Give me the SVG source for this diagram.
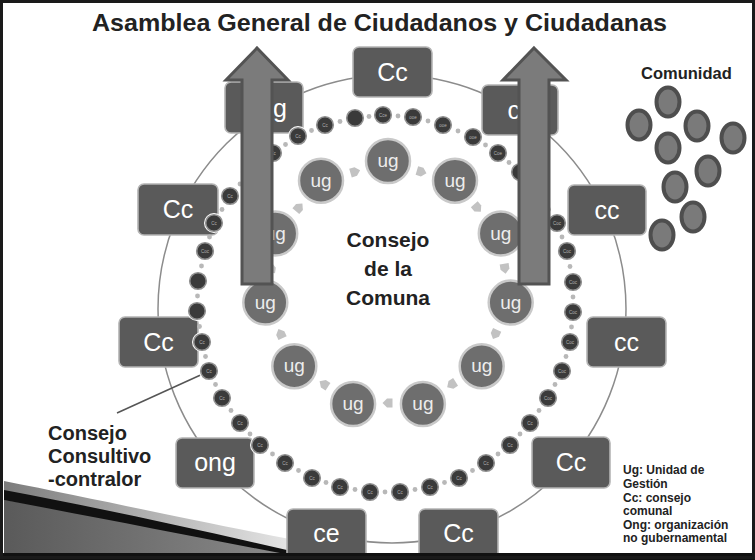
<svg xmlns="http://www.w3.org/2000/svg" width="755" height="560" viewBox="0 0 755 560">
<defs>
<style>
.box{fill:#5a5a5a;stroke:#b4b4b4;stroke-width:1.6}
.bt{font-family:"Liberation Sans",Arial,sans-serif;font-size:25px;fill:#ffffff;text-anchor:middle}
.sc{fill:#3a3a3a;stroke:#909090;stroke-width:1.6}
.halo{fill:#ffffff}
.st{font-family:"Liberation Sans",Arial,sans-serif;font-size:4.5px;fill:#b0b0b0;text-anchor:middle}
.dot{fill:#b8b8b8}
.ug{fill:#6e6e6e;stroke:#c9c9c9;stroke-width:2.5}
.ut{font-family:"Liberation Sans",Arial,sans-serif;font-size:19px;fill:#ececec;text-anchor:middle}
.pa{fill:#c2c2c2}
.big{fill:#7b7b7b;stroke:#535353;stroke-width:3;stroke-linejoin:miter}
.ov{fill:#7a7a7a;stroke:#4e4e4e;stroke-width:4}
.bold{font-family:"Liberation Sans",Arial,sans-serif;font-weight:bold;fill:#222}
</style>
<path id="pent" d="M-4.5,-4.5 L1,-4.5 L5.5,0 L1,4.5 L-4.5,4.5 Z"/>
<linearGradient id="lg" x1="0" y1="0" x2="1" y2="0">
<stop offset="0" stop-color="#7c7c7c"/>
<stop offset="1" stop-color="#f4f4f4"/>
</linearGradient>
<linearGradient id="dg" x1="0" y1="0" x2="1" y2="0">
<stop offset="0" stop-color="#5a5a5a"/>
<stop offset="1" stop-color="#8a8a8a"/>
</linearGradient>
</defs>
<rect width="755" height="560" fill="#ffffff"/>

<!-- decorative swoosh bottom left -->
<g id="swoosh">
<path d="M4,481 C100,500 200,522 330,547 L330,553 L4,553 Z" fill="url(#lg)"/>
<path d="M4,500 C100,515 200,535 290,553 L4,553 Z" fill="url(#dg)"/>
<path d="M4,490 C100,508 200,530 300,553 L280,553 C190,536 100,518 4,500 Z" fill="#111"/>
</g>

<!-- title -->
<text class="bold" x="92" y="31" font-size="24" textLength="575" lengthAdjust="spacingAndGlyphs" fill="#1a1a1a">Asamblea General de Ciudadanos y Ciudadanas</text>

<!-- connectors -->
<g id="connectors" fill="none">
<circle cx="392" cy="309" r="234" stroke="#8c8c8c" stroke-width="1.5"/>
<line x1="117" y1="413" x2="205" y2="373" stroke="#555" stroke-width="1.5"/>
</g>

<!-- outer boxes -->
<g id="box-top"><rect class="box" x="353" y="47" width="79" height="50" rx="6"/><text class="bt" x="392.5" y="81">Cc</text></g>
<g id="box-tl"><rect class="box" x="225" y="82" width="78" height="51" rx="6"/><text class="bt" x="287" y="117" style="text-anchor:end">ug</text></g>
<g id="box-tr"><rect class="box" x="482" y="85" width="76" height="50" rx="6"/><text class="bt" x="520" y="119">cc</text></g>
<g id="box-l1"><rect class="box" x="138" y="184" width="80" height="51" rx="6"/><text class="bt" x="178" y="218">Cc</text></g>
<g id="box-r1"><rect class="box" x="568" y="185" width="78" height="50" rx="6"/><text class="bt" x="607" y="219">cc</text></g>
<g id="box-l2"><rect class="box" x="119" y="317" width="79" height="50" rx="6"/><text class="bt" x="158.5" y="351">Cc</text></g>
<g id="box-r2"><rect class="box" x="587" y="317" width="79" height="50" rx="6"/><text class="bt" x="626.5" y="351">cc</text></g>
<g id="box-ong"><rect class="box" x="176" y="438" width="78" height="50" rx="6"/><text class="bt" x="215" y="471">ong</text></g>
<g id="box-r3"><rect class="box" x="532" y="437" width="78" height="51" rx="6"/><text class="bt" x="571" y="471">Cc</text></g>
<g id="box-ce"><rect class="box" x="287" y="509" width="79" height="50" rx="6"/><text class="bt" x="326.5" y="542">ce</text></g>
<g id="box-cc-b"><rect class="box" x="419" y="509" width="79" height="50" rx="6"/><text class="bt" x="458.5" y="542">Cc</text></g>

<!-- small ring connectors (dots) -->
<g id="ring-dots" class="dot">
<circle cx="240" cy="184" r="2.4"/><circle cx="261.5" cy="162.5" r="2.4"/><circle cx="285.5" cy="144.5" r="2.4"/><circle cx="311.5" cy="130.5" r="2.4"/><circle cx="340" cy="121.5" r="2.4"/><circle cx="369" cy="116.5" r="2.4"/><circle cx="398" cy="116" r="2.4"/><circle cx="428" cy="121" r="2.4"/><circle cx="458" cy="131" r="2.4"/><circle cx="485.5" cy="145" r="2.4"/><circle cx="509" cy="162.5" r="2.4"/><circle cx="530" cy="184" r="2.4"/><circle cx="548.5" cy="209.5" r="2.4"/><circle cx="562" cy="237" r="2.4"/><circle cx="570" cy="266.5" r="2.4"/><circle cx="573" cy="297" r="2.4"/><circle cx="571.5" cy="327" r="2.4"/><circle cx="566" cy="356.5" r="2.4"/><circle cx="555" cy="384.5" r="2.4"/><circle cx="539" cy="410.5" r="2.4"/><circle cx="520" cy="434" r="2.4"/><circle cx="498" cy="454" r="2.4"/><circle cx="472.5" cy="470.5" r="2.4"/><circle cx="444.5" cy="482.5" r="2.4"/><circle cx="415" cy="489.5" r="2.4"/><circle cx="385" cy="492" r="2.4"/><circle cx="355" cy="489.5" r="2.4"/><circle cx="326" cy="482.5" r="2.4"/><circle cx="298.5" cy="470.5" r="2.4"/><circle cx="272.5" cy="454" r="2.4"/><circle cx="250" cy="434" r="2.4"/><circle cx="231" cy="410.5" r="2.4"/><circle cx="215.5" cy="384.5" r="2.4"/><circle cx="205.5" cy="356.5" r="2.4"/><circle cx="199.5" cy="326.5" r="2.4"/><circle cx="197.5" cy="296" r="2.4"/><circle cx="201.5" cy="266" r="2.4"/><circle cx="209.5" cy="237" r="2.4"/><circle cx="222" cy="209.5" r="2.4"/>
</g>

<!-- small ring circles -->
<g id="ring-circles">
<g id="s1"><circle class="halo" cx="230" cy="196" r="10"/><circle class="sc" cx="230" cy="196" r="8.3"/><text class="st" x="230" y="197.6">Cc</text></g>
<g id="s2"><circle class="halo" cx="250" cy="172" r="10"/><circle class="sc" cx="250" cy="172" r="8.3"/></g>
<g id="s3"><circle class="halo" cx="273" cy="153" r="10"/><circle class="sc" cx="273" cy="153" r="8.3"/><text class="st" x="273" y="154.6">Cc</text></g>
<g id="s4"><circle class="halo" cx="298" cy="136" r="10"/><circle class="sc" cx="298" cy="136" r="8.3"/><text class="st" x="298" y="137.6">Cc</text></g>
<g id="s5"><circle class="halo" cx="325" cy="125" r="10"/><circle class="sc" cx="325" cy="125" r="8.3"/><text class="st" x="325" y="126.6">Cc</text></g>
<g id="s6"><circle class="halo" cx="355" cy="118" r="10"/><circle class="sc" cx="355" cy="118" r="8.3"/></g>
<g id="s7"><circle class="halo" cx="383" cy="115" r="10"/><circle class="sc" cx="383" cy="115" r="8.3"/><text class="st" x="383" y="116.6">Cce</text></g>
<g id="s8"><circle class="halo" cx="413" cy="117" r="10"/><circle class="sc" cx="413" cy="117" r="8.3"/><text class="st" x="413" y="118.6">ooe</text></g>
<g id="s9"><circle class="halo" cx="443" cy="125" r="10"/><circle class="sc" cx="443" cy="125" r="8.3"/><text class="st" x="443" y="126.6">ooe</text></g>
<g id="s10"><circle class="halo" cx="473" cy="137" r="10"/><circle class="sc" cx="473" cy="137" r="8.3"/><text class="st" x="473" y="138.6">ooe</text></g>
<g id="s11"><circle class="halo" cx="498" cy="153" r="10"/><circle class="sc" cx="498" cy="153" r="8.3"/><text class="st" x="498" y="154.6">Coe</text></g>
<g id="s12"><circle class="halo" cx="520" cy="172" r="10"/><circle class="sc" cx="520" cy="172" r="8.3"/></g>
<g id="s13"><circle class="halo" cx="540" cy="196" r="10"/><circle class="sc" cx="540" cy="196" r="8.3"/></g>
<g id="s14"><circle class="halo" cx="557" cy="223" r="10"/><circle class="sc" cx="557" cy="223" r="8.3"/><text class="st" x="557" y="224.6">Coc</text></g>
<g id="s15"><circle class="halo" cx="567" cy="251" r="10"/><circle class="sc" cx="567" cy="251" r="8.3"/><text class="st" x="567" y="252.6">Coc</text></g>
<g id="s16"><circle class="halo" cx="573" cy="282" r="10"/><circle class="sc" cx="573" cy="282" r="8.3"/><text class="st" x="573" y="283.6">Coc</text></g>
<g id="s17"><circle class="halo" cx="573" cy="312" r="10"/><circle class="sc" cx="573" cy="312" r="8.3"/><text class="st" x="573" y="313.6">Coc</text></g>
<g id="s18"><circle class="halo" cx="570" cy="342" r="10"/><circle class="sc" cx="570" cy="342" r="8.3"/><text class="st" x="570" y="343.6">Coc</text></g>
<g id="s19"><circle class="halo" cx="562" cy="371" r="10"/><circle class="sc" cx="562" cy="371" r="8.3"/><text class="st" x="562" y="372.6">Coc</text></g>
<g id="s20"><circle class="halo" cx="548" cy="398" r="10"/><circle class="sc" cx="548" cy="398" r="8.3"/><text class="st" x="548" y="399.6">Coc</text></g>
<g id="s21"><circle class="halo" cx="530" cy="423" r="10"/><circle class="sc" cx="530" cy="423" r="8.3"/><text class="st" x="530" y="424.6">Cc</text></g>
<g id="s22"><circle class="halo" cx="510" cy="445" r="10"/><circle class="sc" cx="510" cy="445" r="8.3"/><text class="st" x="510" y="446.6">Cc</text></g>
<g id="s23"><circle class="halo" cx="486" cy="463" r="10"/><circle class="sc" cx="486" cy="463" r="8.3"/><text class="st" x="486" y="464.6">Cc</text></g>
<g id="s24"><circle class="halo" cx="459" cy="478" r="10"/><circle class="sc" cx="459" cy="478" r="8.3"/><text class="st" x="459" y="479.6">Cc</text></g>
<g id="s25"><circle class="halo" cx="430" cy="487" r="10"/><circle class="sc" cx="430" cy="487" r="8.3"/><text class="st" x="430" y="488.6">Cc</text></g>
<g id="s26"><circle class="halo" cx="400" cy="492" r="10"/><circle class="sc" cx="400" cy="492" r="8.3"/><text class="st" x="400" y="493.6">Cc</text></g>
<g id="s27"><circle class="halo" cx="370" cy="492" r="10"/><circle class="sc" cx="370" cy="492" r="8.3"/><text class="st" x="370" y="493.6">Cc</text></g>
<g id="s28"><circle class="halo" cx="340" cy="487" r="10"/><circle class="sc" cx="340" cy="487" r="8.3"/><text class="st" x="340" y="488.6">Cc</text></g>
<g id="s29"><circle class="halo" cx="312" cy="478" r="10"/><circle class="sc" cx="312" cy="478" r="8.3"/><text class="st" x="312" y="479.6">Cc</text></g>
<g id="s30"><circle class="halo" cx="285" cy="463" r="10"/><circle class="sc" cx="285" cy="463" r="8.3"/><text class="st" x="285" y="464.6">Cc</text></g>
<g id="s31"><circle class="halo" cx="260" cy="445" r="10"/><circle class="sc" cx="260" cy="445" r="8.3"/><text class="st" x="260" y="446.6">Cc</text></g>
<g id="s32"><circle class="halo" cx="240" cy="423" r="10"/><circle class="sc" cx="240" cy="423" r="8.3"/><text class="st" x="240" y="424.6">Cc</text></g>
<g id="s33"><circle class="halo" cx="222" cy="398" r="10"/><circle class="sc" cx="222" cy="398" r="8.3"/><text class="st" x="222" y="399.6">Cc</text></g>
<g id="s34"><circle class="halo" cx="209" cy="371" r="10"/><circle class="sc" cx="209" cy="371" r="8.3"/><text class="st" x="209" y="372.6">Cc</text></g>
<g id="s35"><circle class="halo" cx="202" cy="342" r="10"/><circle class="sc" cx="202" cy="342" r="8.3"/><text class="st" x="202" y="343.6">Cc</text></g>
<g id="s36"><circle class="halo" cx="197" cy="311" r="10"/><circle class="sc" cx="197" cy="311" r="8.3"/></g>
<g id="s37"><circle class="halo" cx="198" cy="281" r="10"/><circle class="sc" cx="198" cy="281" r="8.3"/></g>
<g id="s38"><circle class="halo" cx="205" cy="251" r="10"/><circle class="sc" cx="205" cy="251" r="8.3"/><text class="st" x="205" y="252.6">Coc</text></g>
<g id="s39"><circle class="halo" cx="214" cy="223" r="10"/><circle class="sc" cx="214" cy="223" r="8.3"/><text class="st" x="214" y="224.6">Cc</text></g>
</g>

<!-- inner cycle arrows -->
<g id="inner-arrows" class="pa">
<use href="#pent" transform="translate(421.2,171.8) rotate(16.36)"/>
<use href="#pent" transform="translate(477.2,207.7) rotate(49.09)"/>
<use href="#pent" transform="translate(504.8,268.2) rotate(81.82)"/>
<use href="#pent" transform="translate(495.3,334) rotate(114.55)"/>
<use href="#pent" transform="translate(451.8,384.3) rotate(147.27)"/>
<use href="#pent" transform="translate(388,403) rotate(180)"/>
<use href="#pent" transform="translate(324.2,384.3) rotate(212.73)"/>
<use href="#pent" transform="translate(280.7,334) rotate(245.45)"/>
<use href="#pent" transform="translate(271.2,268.2) rotate(278.18)"/>
<use href="#pent" transform="translate(298.8,207.7) rotate(310.91)"/>
<use href="#pent" transform="translate(354.8,171.8) rotate(343.64)"/>
</g>

<!-- ug nodes -->
<g id="ug1"><circle class="ug" cx="388" cy="161" r="22"/><text class="ut" x="388" y="167">ug</text></g>
<g id="ug2"><circle class="ug" cx="455" cy="180.7" r="22"/><text class="ut" x="455" y="186.7">ug</text></g>
<g id="ug3"><circle class="ug" cx="500.8" cy="233.5" r="22"/><text class="ut" x="500.8" y="239.5">ug</text></g>
<g id="ug4"><circle class="ug" cx="510.7" cy="302.6" r="22"/><text class="ut" x="510.7" y="308.6">ug</text></g>
<g id="ug5"><circle class="ug" cx="481.7" cy="366.2" r="22"/><text class="ut" x="481.7" y="372.2">ug</text></g>
<g id="ug6"><circle class="ug" cx="422.9" cy="404" r="22"/><text class="ut" x="422.9" y="410">ug</text></g>
<g id="ug7"><circle class="ug" cx="353.1" cy="404" r="22"/><text class="ut" x="353.1" y="410">ug</text></g>
<g id="ug8"><circle class="ug" cx="294.3" cy="366.2" r="22"/><text class="ut" x="294.3" y="372.2">ug</text></g>
<g id="ug9"><circle class="ug" cx="265.3" cy="302.6" r="22"/><text class="ut" x="265.3" y="308.6">ug</text></g>
<g id="ug10"><circle class="ug" cx="275.2" cy="233.5" r="22"/><text class="ut" x="275.2" y="239.5">ug</text></g>
<g id="ug11"><circle class="ug" cx="321" cy="180.7" r="22"/><text class="ut" x="321" y="186.7">ug</text></g>

<!-- center label -->
<g id="center-label">
<text class="bold" font-size="21" text-anchor="middle" fill="#2a2a2a"><tspan x="388" y="247">Consejo</tspan><tspan x="388" y="276">de la</tspan><tspan x="388" y="305">Comuna</tspan></text>
</g>

<!-- big arrows -->
<g id="arrow-left"><path class="big" d="M257,48 L288,80 L272,80 L272,284 L242,284 L242,80 L226,80 Z"/></g>
<g id="arrow-right"><path class="big" d="M534,48 L566,80 L549,80 L549,284 L519,284 L519,80 L503,80 Z"/></g>

<!-- community -->
<g id="comunidad">
<text class="bold" x="641" y="79" font-size="16.5">Comunidad</text>
<ellipse class="ov" cx="668" cy="102" rx="11.5" ry="14.5"/>
<ellipse class="ov" cx="639" cy="125" rx="11.5" ry="14.5"/>
<ellipse class="ov" cx="697" cy="126" rx="11.5" ry="14.5"/>
<ellipse class="ov" cx="733" cy="138" rx="11.5" ry="14.5"/>
<ellipse class="ov" cx="668" cy="148" rx="11.5" ry="14.5"/>
<ellipse class="ov" cx="708" cy="171" rx="11.5" ry="14.5"/>
<ellipse class="ov" cx="675" cy="187" rx="11.5" ry="14.5"/>
<ellipse class="ov" cx="693" cy="217" rx="11.5" ry="14.5"/>
<ellipse class="ov" cx="662" cy="235" rx="11.5" ry="14.5"/>
</g>

<!-- labels -->
<g id="consejo-consultivo">
<text class="bold" font-size="20" fill="#1e1e1e"><tspan x="48" y="440">Consejo</tspan><tspan x="48" y="463">Consultivo</tspan><tspan x="48" y="486">-contralor</tspan></text>
</g>
<g id="legend">
<text class="bold" font-size="12" fill="#1e1e1e"><tspan x="623" y="474">Ug: Unidad de</tspan><tspan x="623" y="488">Gestión</tspan><tspan x="623" y="502">Cc: consejo</tspan><tspan x="623" y="515">comunal</tspan><tspan x="623" y="529">Ong: organización</tspan><tspan x="623" y="542">no gubernamental</tspan></text>
</g>

<!-- frame -->
<g id="frame">
<rect x="0" y="553" width="755" height="7" fill="#111"/>
<rect x="1.5" y="1.5" width="752" height="556" fill="none" stroke="#1a1a1a" stroke-width="3"/>
</g>
</svg>
